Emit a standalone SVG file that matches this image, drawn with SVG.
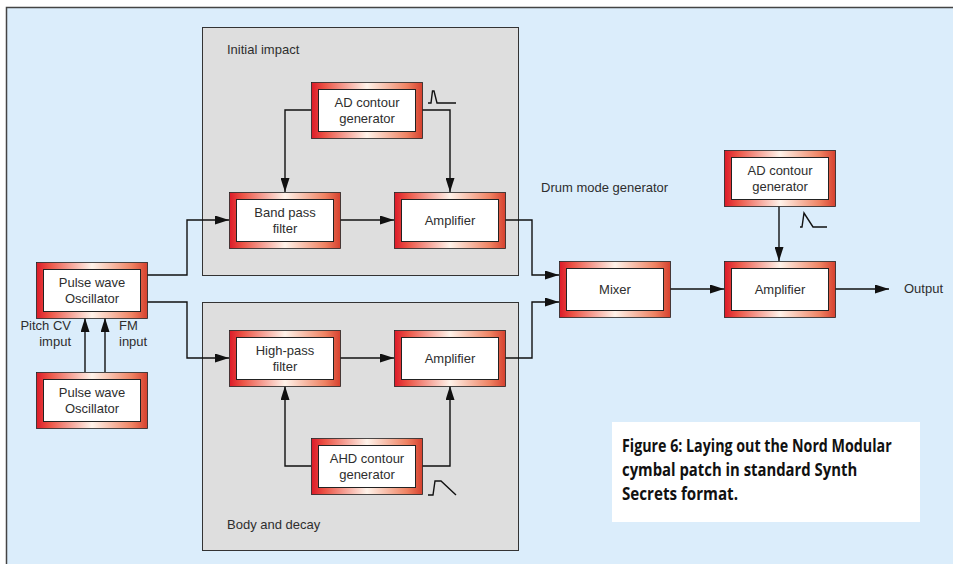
<svg xmlns="http://www.w3.org/2000/svg" width="953" height="564" viewBox="0 0 953 564">
  <defs>
    <linearGradient id="rim" x1="0" y1="0" x2="1" y2="0">
      <stop offset="0" stop-color="#dc1a28"/>
      <stop offset="0.12" stop-color="#ec5446"/>
      <stop offset="0.5" stop-color="#fff3ea"/>
      <stop offset="0.86" stop-color="#ef8262"/>
      <stop offset="1" stop-color="#d6402e"/>
    </linearGradient>
    <marker id="arrow" markerUnits="userSpaceOnUse" markerWidth="14" markerHeight="9" refX="14" refY="4.5" orient="auto">
      <path d="M0,0 L14,4.5 L0,9 z" fill="#111"/>
    </marker>
  </defs>
  <style>
    .frame { fill: #dbedfb; stroke: #444; stroke-width: 1.5; }
    .section { fill: #dedede; stroke: #333; stroke-width: 1; }
    .rim { fill: url(#rim); stroke: #222; stroke-width: 0.8; }
    .face { fill: #fff; stroke: #222; stroke-width: 1; }
    .lbl { font-family: "Liberation Sans", Arial, sans-serif; font-size: 13px; fill: #2e2e2e; }
    .mid { text-anchor: middle; }
    .wire { fill: none; stroke: #111; stroke-width: 1.4; }
    .env { fill: none; stroke: #111; stroke-width: 1.4; stroke-linejoin: miter; }
    .cap { font-family: "Open Sans", "Liberation Sans", sans-serif; font-size: 18px; font-weight: bold; fill: #111; }
  </style>

  <!-- background panel -->
  <rect class="frame" x="6.5" y="7.5" width="960" height="570"/>

  <!-- section panels -->
  <g id="initial-impact">
    <rect class="section" x="202.5" y="27.5" width="316" height="248"/>
    <text class="lbl" x="227" y="54">Initial impact</text>
  </g>
  <g id="body-decay">
    <rect class="section" x="202.5" y="302.5" width="316" height="248"/>
    <text class="lbl" x="227" y="529">Body and decay</text>
  </g>
  <text class="lbl" x="541" y="192">Drum mode generator</text>

  <!-- connectors -->
  <g id="connectors">
    <path class="wire" d="M147,275 H187 V220 H229" marker-end="url(#arrow)"/>
    <path class="wire" d="M147,302 H187 V358 H229" marker-end="url(#arrow)"/>
    <path class="wire" d="M340,220 H394" marker-end="url(#arrow)"/>
    <path class="wire" d="M311,110 H285 V192" marker-end="url(#arrow)"/>
    <path class="wire" d="M422,110 H450 V192" marker-end="url(#arrow)"/>
    <path class="wire" d="M505,220 H532 V275 H559" marker-end="url(#arrow)"/>
    <path class="wire" d="M505,358 H532 V302 H559" marker-end="url(#arrow)"/>
    <path class="wire" d="M340,358 H394" marker-end="url(#arrow)"/>
    <path class="wire" d="M311,466 H285 V386" marker-end="url(#arrow)"/>
    <path class="wire" d="M422,466 H450 V386" marker-end="url(#arrow)"/>
    <path class="wire" d="M85,372 V318" marker-end="url(#arrow)"/>
    <path class="wire" d="M105,372 V318" marker-end="url(#arrow)"/>
    <path class="wire" d="M670,289 H724" marker-end="url(#arrow)"/>
    <path class="wire" d="M779,206 V261" marker-end="url(#arrow)"/>
    <path class="wire" d="M834,289 H889" marker-end="url(#arrow)"/>
  </g>

  <!-- envelope shape icons -->
  <path class="env" d="M428,103 H431 L432.5,91 H434 L437,103 H456"/>
  <path class="env" d="M800,227 H802 L804,213 L813,227 H827"/>
  <path class="env" d="M428,495 H433 L435,481 H441 L456,495"/>

  <!-- modules -->
  <g id="ad-contour-1">
    <rect class="rim" x="311.5" y="82.5" width="111" height="56"/>
    <rect class="face" x="318.5" y="89.5" width="97" height="42"/>
    <text class="lbl mid" x="367" y="107">AD contour</text>
    <text class="lbl mid" x="367" y="123">generator</text>
  </g>
  <g id="band-pass-filter">
    <rect class="rim" x="229.5" y="192.5" width="111" height="56"/>
    <rect class="face" x="236.5" y="199.5" width="97" height="42"/>
    <text class="lbl mid" x="285" y="217">Band pass</text>
    <text class="lbl mid" x="285" y="233">filter</text>
  </g>
  <g id="amplifier-1">
    <rect class="rim" x="394.5" y="192.5" width="111" height="56"/>
    <rect class="face" x="401.5" y="199.5" width="97" height="42"/>
    <text class="lbl mid" x="450" y="225">Amplifier</text>
  </g>
  <g id="high-pass-filter">
    <rect class="rim" x="229.5" y="330.5" width="111" height="56"/>
    <rect class="face" x="236.5" y="337.5" width="97" height="42"/>
    <text class="lbl mid" x="285" y="355">High-pass</text>
    <text class="lbl mid" x="285" y="371">filter</text>
  </g>
  <g id="amplifier-2">
    <rect class="rim" x="394.5" y="330.5" width="111" height="56"/>
    <rect class="face" x="401.5" y="337.5" width="97" height="42"/>
    <text class="lbl mid" x="450" y="363">Amplifier</text>
  </g>
  <g id="ahd-contour">
    <rect class="rim" x="311.5" y="438.5" width="111" height="56"/>
    <rect class="face" x="318.5" y="445.5" width="97" height="42"/>
    <text class="lbl mid" x="367" y="463">AHD contour</text>
    <text class="lbl mid" x="367" y="479">generator</text>
  </g>
  <g id="pulse-osc-1">
    <rect class="rim" x="36.5" y="262.5" width="111" height="56"/>
    <rect class="face" x="43.5" y="269.5" width="97" height="42"/>
    <text class="lbl mid" x="92" y="287">Pulse wave</text>
    <text class="lbl mid" x="92" y="303">Oscillator</text>
  </g>
  <g id="pulse-osc-2">
    <rect class="rim" x="36.5" y="372.5" width="111" height="56"/>
    <rect class="face" x="43.5" y="379.5" width="97" height="42"/>
    <text class="lbl mid" x="92" y="397">Pulse wave</text>
    <text class="lbl mid" x="92" y="413">Oscillator</text>
  </g>
  <g id="mixer">
    <rect class="rim" x="559.5" y="261.5" width="111" height="56"/>
    <rect class="face" x="566.5" y="268.5" width="97" height="42"/>
    <text class="lbl mid" x="615" y="294">Mixer</text>
  </g>
  <g id="amplifier-out">
    <rect class="rim" x="724.5" y="261.5" width="111" height="56"/>
    <rect class="face" x="731.5" y="268.5" width="97" height="42"/>
    <text class="lbl mid" x="780" y="294">Amplifier</text>
  </g>
  <g id="ad-contour-2">
    <rect class="rim" x="724.5" y="150.5" width="111" height="56"/>
    <rect class="face" x="731.5" y="157.5" width="97" height="42"/>
    <text class="lbl mid" x="780" y="175">AD contour</text>
    <text class="lbl mid" x="780" y="191">generator</text>
  </g>

  <!-- input / output labels -->
  <text class="lbl" x="71" y="330" text-anchor="end">Pitch CV</text>
  <text class="lbl" x="71" y="346" text-anchor="end">imput</text>
  <text class="lbl" x="119" y="330">FM</text>
  <text class="lbl" x="119" y="346">input</text>
  <text class="lbl" x="904" y="293">Output</text>

  <!-- caption: condensed bold text, narrowed by a horizontal scale -->
  <g id="caption">
    <rect x="612" y="422" width="308" height="100" fill="#fff"/>
    <g transform="translate(622,0) scale(0.8,1)">
      <text class="cap" x="0" y="452" textLength="337" lengthAdjust="spacingAndGlyphs">Figure 6: Laying out the Nord Modular</text>
      <text class="cap" x="0" y="476" textLength="294" lengthAdjust="spacingAndGlyphs">cymbal patch in standard Synth</text>
      <text class="cap" x="0" y="500" textLength="145" lengthAdjust="spacingAndGlyphs">Secrets format.</text>
    </g>
  </g>
</svg>
